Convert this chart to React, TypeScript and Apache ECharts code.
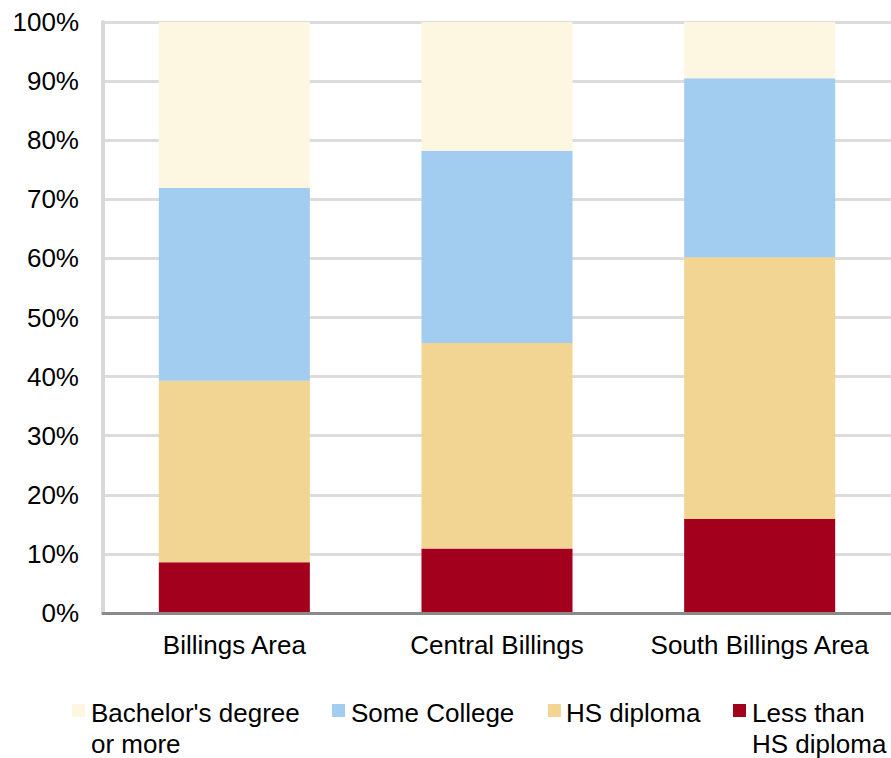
import React, { useEffect, useRef } from "react";
import * as echarts from "echarts";

// Educational attainment shares by area (percent of adults)
const categories = ["Billings Area", "Central Billings", "South Billings Area"];
const lessThanHS = [8.6, 10.9, 15.9];
const hsDiploma = [30.7, 34.8, 44.3];
const someCollege = [32.6, 32.5, 30.3];
const bachelors = [28.1, 21.8, 9.5];

const seriesNames = ["Less than\nHS diploma", "HS diploma", "Some College", "Bachelor's degree\nor more"];
const seriesColors = ["#a3001e", "#f2d493", "#a3cdf0", "#fdf6e0"];
const seriesData = [lessThanHS, hsDiploma, someCollege, bachelors];

// legend reads top-of-stack first
const legendOrder = [3, 2, 1, 0];
const legendMarkerX = [72, 332, 548, 733];
const legendTextX = [91, 351, 566, 752];

const FONT = "'Liberation Sans', Arial, sans-serif";

export default function App() {
  const ref = useRef<HTMLDivElement>(null);

  useEffect(() => {
    if (!ref.current) return;
    const chart = echarts.init(ref.current, null, { renderer: "svg" });

    const legendGraphics: any[] = [];
    legendOrder.forEach((si, k) => {
      legendGraphics.push({
        type: "rect",
        shape: { x: legendMarkerX[k], y: 704, width: 13, height: 13 },
        style: { fill: seriesColors[si] },
      });
      legendGraphics.push({
        type: "text",
        x: legendTextX[k],
        y: 697,
        style: {
          text: seriesNames[si],
          fill: "#000",
          font: `26px ${FONT}`,
          lineHeight: 31,
          verticalAlign: "top",
          align: "left",
        },
      });
    });

    chart.setOption({
      animation: false,
      backgroundColor: "#fff",
      textStyle: { fontFamily: FONT },
      grid: { left: 103, right: 0, top: 22, bottom: 145, containLabel: false },
      xAxis: {
        type: "category",
        data: categories,
        z: 5,
        axisLine: { show: true, lineStyle: { color: "#8a8a8a", width: 3 } },
        axisTick: { show: false },
        axisLabel: { color: "#000", fontSize: 26, margin: 19, interval: 0, fontFamily: FONT },
        splitLine: { show: false },
      },
      yAxis: {
        type: "value",
        min: 0,
        max: 100,
        interval: 10,
        axisLine: { show: true, lineStyle: { color: "#d9d9d9", width: 4 } },
        axisTick: { show: false },
        axisLabel: {
          color: "#000",
          fontSize: 26,
          margin: 24,
          fontFamily: FONT,
          formatter: (v: number) => `${v}%`,
        },
        splitLine: { show: true, lineStyle: { color: "#dcdcdc", width: 3 } },
      },
      series: seriesData.map((d, i) => ({
        name: seriesNames[i],
        type: "bar",
        stack: "total",
        data: d,
        barWidth: "57.5%",
        itemStyle: { color: seriesColors[i] },
      })),
      graphic: legendGraphics,
    });

    return () => chart.dispose();
  }, []);

  return (
    <div
      ref={ref}
      style={{ position: "fixed", left: 0, top: 0, width: 891, height: 758 }}
    />
  );
}
